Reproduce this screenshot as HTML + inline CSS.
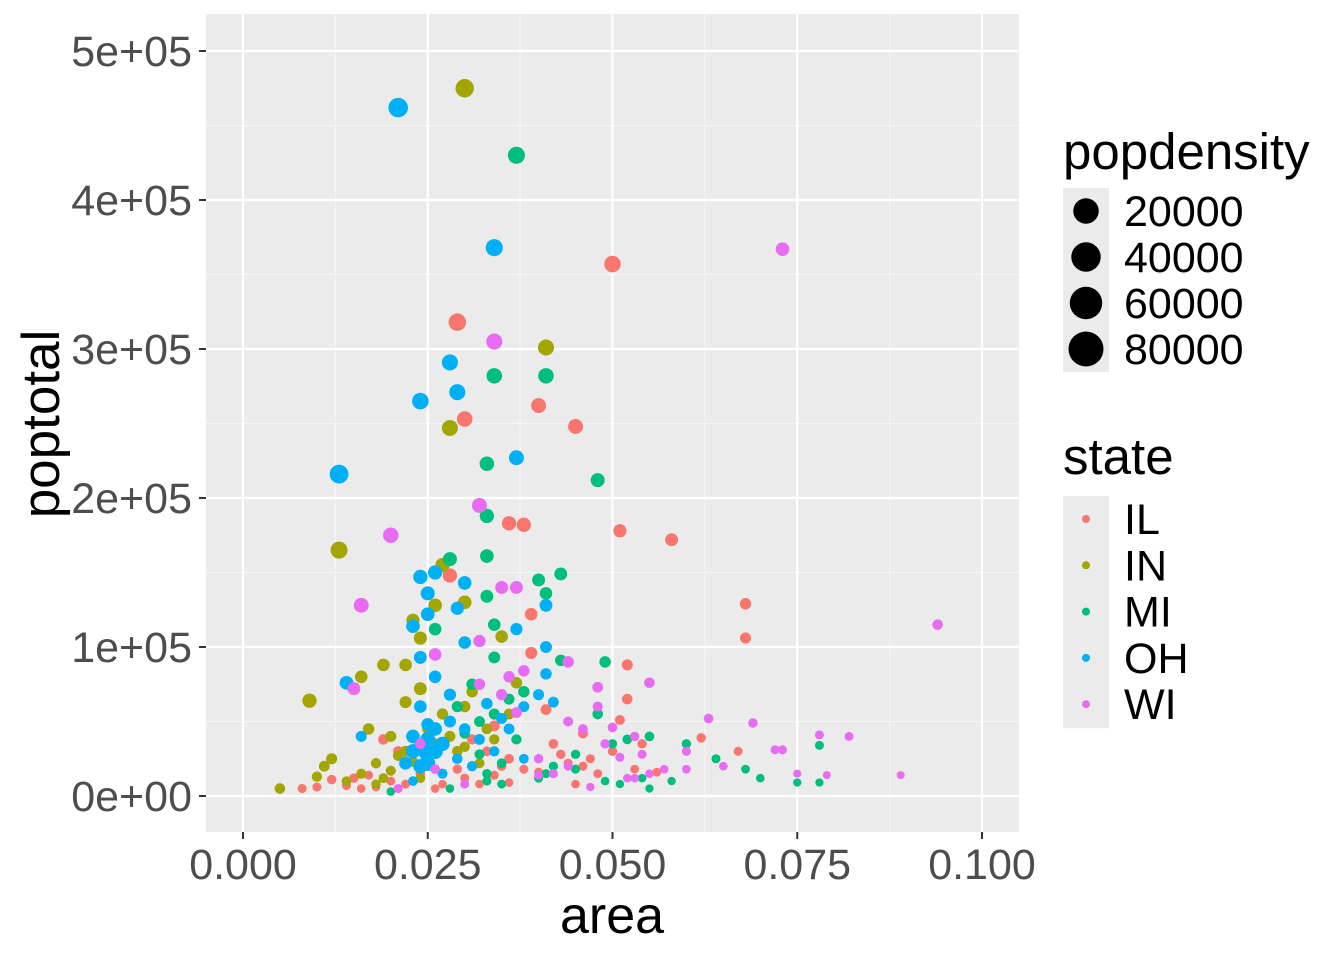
<!DOCTYPE html>
<html><head><meta charset="utf-8"><style>
body{margin:0;background:#fff}
svg{display:block;font-family:"Liberation Sans",Arial,sans-serif}
</style></head><body>
<svg id="chart" width="1344" height="960"></svg>
<script>
// data: [area, poptotal, popdensity]
const IL = [[0.050,357000,50000],[0.029,318000,60000],[0.030,253000,40000],[0.040,262000,35000],[0.045,248000,35000],[0.036,183000,30000],[0.038,182000,30000],[0.051,178000,22000],[0.058,172000,20000],[0.068,129000,12000],[0.068,106000,10000],[0.039,122000,18000],[0.028,148000,30000],[0.052,88000,10000],[0.052,65000,8000],[0.039,96000,15000],[0.041,58000,9000],[0.046,42000,6000],[0.051,51000,6000],[0.062,39000,4000],[0.067,30000,3000],[0.034,47000,9000],[0.033,30000,5000],[0.035,20000,4000],[0.038,18000,3000],[0.042,35000,5000],[0.044,22000,3000],[0.030,12000,3000],[0.027,8000,2000],[0.024,15000,4000],[0.020,10000,3000],[0.018,6000,2000],[0.015,12000,4000],[0.014,7000,3000],[0.012,11000,4000],[0.010,6000,3000],[0.008,5000,3000],[0.016,5000,2000],[0.021,30000,7000],[0.019,38000,8000],[0.025,25000,6000],[0.031,38000,7000],[0.036,25000,5000],[0.040,16000,3000],[0.043,28000,4000],[0.047,25000,3000],[0.053,18000,2500],[0.056,16000,2500],[0.048,15000,2500],[0.029,18000,4000],[0.022,8000,2500],[0.026,5000,2000],[0.017,14000,3000],[0.032,8000,2000],[0.036,9000,2000],[0.045,8000,2000],[0.054,35000,4000],[0.050,30000,4000],[0.046,20000,3000],[0.034,14000,3000]];
const IN = [[0.030,475000,70000],[0.041,301000,45000],[0.028,247000,45000],[0.013,165000,55000],[0.009,64000,30000],[0.027,155000,30000],[0.030,130000,25000],[0.026,128000,25000],[0.023,118000,22000],[0.019,88000,18000],[0.022,88000,18000],[0.016,80000,18000],[0.024,106000,22000],[0.035,107000,18000],[0.037,76000,12000],[0.005,5000,8000],[0.012,25000,10000],[0.011,20000,9000],[0.017,45000,12000],[0.020,40000,10000],[0.010,13000,7000],[0.022,30000,10000],[0.024,72000,20000],[0.022,63000,15000],[0.030,60000,12000],[0.028,40000,10000],[0.031,70000,12000],[0.023,23000,8000],[0.026,35000,9000],[0.018,22000,7000],[0.016,15000,6000],[0.014,10000,5000],[0.020,17000,6000],[0.025,45000,10000],[0.027,55000,11000],[0.032,22000,6000],[0.033,45000,8000],[0.029,30000,8000],[0.021,27000,8000],[0.019,12000,5000],[0.018,8000,4000],[0.024,12000,5000],[0.030,33000,7000],[0.036,55000,9000],[0.034,38000,7000]];
const MI = [[0.037,430000,55000],[0.034,282000,40000],[0.041,282000,40000],[0.033,223000,32000],[0.048,212000,28000],[0.033,188000,30000],[0.028,159000,28000],[0.033,161000,25000],[0.043,149000,20000],[0.040,145000,20000],[0.033,134000,20000],[0.026,112000,18000],[0.034,115000,18000],[0.041,136000,18000],[0.049,90000,12000],[0.043,91000,12000],[0.034,93000,14000],[0.048,55000,8000],[0.055,40000,5000],[0.060,35000,4000],[0.064,25000,3000],[0.068,18000,2500],[0.070,12000,2000],[0.075,9000,1500],[0.078,34000,3000],[0.078,9000,1500],[0.038,70000,12000],[0.036,65000,10000],[0.034,55000,10000],[0.032,50000,9000],[0.030,42000,8000],[0.037,38000,7000],[0.040,12000,3000],[0.041,15000,3000],[0.045,28000,4000],[0.050,35000,4000],[0.052,38000,5000],[0.058,10000,1500],[0.054,12000,2000],[0.049,10000,2000],[0.045,18000,3000],[0.035,22000,5000],[0.033,15000,4000],[0.033,10000,3000],[0.035,8000,2500],[0.020,3000,2000],[0.028,5000,2000],[0.032,28000,6000],[0.042,20000,3500],[0.055,5000,1500],[0.051,8000,1500],[0.025,20000,5000],[0.027,35000,8000],[0.029,60000,11000],[0.031,75000,12000]];
const OH = [[0.021,462000,85000],[0.034,368000,55000],[0.028,291000,45000],[0.029,271000,45000],[0.024,265000,50000],[0.037,227000,35000],[0.013,216000,75000],[0.024,147000,30000],[0.026,150000,30000],[0.030,143000,25000],[0.025,136000,28000],[0.041,128000,20000],[0.025,122000,25000],[0.023,114000,25000],[0.029,126000,22000],[0.014,76000,25000],[0.041,100000,14000],[0.041,82000,12000],[0.037,112000,16000],[0.024,93000,20000],[0.030,103000,18000],[0.026,80000,18000],[0.028,68000,16000],[0.024,60000,18000],[0.025,48000,20000],[0.023,40000,25000],[0.024,32000,40000],[0.025,28000,45000],[0.026,30000,40000],[0.025,22000,35000],[0.024,20000,30000],[0.027,35000,30000],[0.026,45000,25000],[0.023,30000,30000],[0.025,38000,35000],[0.022,22000,20000],[0.028,50000,15000],[0.030,45000,12000],[0.033,62000,12000],[0.035,52000,10000],[0.036,45000,9000],[0.038,60000,10000],[0.040,68000,10000],[0.032,38000,9000],[0.029,25000,8000],[0.031,20000,7000],[0.034,30000,7000],[0.027,15000,6000],[0.016,40000,10000],[0.023,10000,5000],[0.038,25000,5000],[0.042,63000,9000]];
const WI = [[0.073,367000,25000],[0.034,305000,45000],[0.032,195000,35000],[0.020,175000,40000],[0.016,128000,35000],[0.094,115000,8000],[0.035,140000,20000],[0.037,140000,20000],[0.032,104000,16000],[0.015,72000,20000],[0.044,90000,12000],[0.048,73000,9000],[0.055,76000,8000],[0.063,52000,5000],[0.069,49000,4000],[0.072,31000,3000],[0.073,31000,3000],[0.082,40000,3000],[0.078,41000,3000],[0.089,14000,1000],[0.079,14000,1000],[0.075,15000,1200],[0.026,95000,18000],[0.032,75000,12000],[0.038,84000,12000],[0.036,80000,12000],[0.035,68000,11000],[0.037,56000,9000],[0.040,14000,2500],[0.044,50000,6000],[0.046,45000,5000],[0.048,60000,6000],[0.050,46000,5000],[0.051,26000,3000],[0.053,40000,4000],[0.054,28000,3000],[0.053,12000,2000],[0.055,15000,2000],[0.057,18000,2000],[0.060,30000,3000],[0.060,18000,2000],[0.065,20000,2000],[0.047,6000,1500],[0.044,20000,3000],[0.042,15000,3000],[0.030,8000,2500],[0.026,18000,5000],[0.024,35000,8000],[0.021,5000,3000],[0.040,25000,4000],[0.049,35000,4000],[0.052,12000,2000]];
const xTicks = [0, 0.025, 0.05, 0.075, 0.1];
const xTickLabels = ["0.000","0.025","0.050","0.075","0.100"];
const yTicks = [0, 100000, 200000, 300000, 400000, 500000];
const yTickLabels = ["0e+00","1e+05","2e+05","3e+05","4e+05","5e+05"];
const legendSizes = [20000, 40000, 60000, 80000];
const stateNames = ["IL","IN","MI","OH","WI"];
const stateColors = ["#F8766D","#A3A500","#00BF7D","#00B0F6","#E76BF3"];

const NS = "http://www.w3.org/2000/svg";
const svg = document.getElementById("chart");
const P = {l:206, r:1019, t:14, b:832};
const xs = v => 243 + v * 7390;
const ys = v => 796 - v * 149 / 100000;
const rs = d => 3.3 + Math.sqrt(d / 80000) * 6.3;
const rl = d => 8 + Math.sqrt(d / 80000) * 9.5;
function mk(tag, attrs, parent) {
  const e = document.createElementNS(NS, tag);
  for (const k in attrs) e.setAttribute(k, attrs[k]);
  (parent || svg).appendChild(e);
  return e;
}
const panel = mk("rect", {x:P.l, y:P.t, width:P.r-P.l, height:P.b-P.t, fill:"#EBEBEB"});


for (let i = 0; i < xTicks.length - 1; i++) {
  const x = xs((xTicks[i] + xTicks[i+1]) / 2);
  const g = mk("line", {x1:x, x2:x, y1:P.t, y2:P.b, stroke:"#F5F5F5", "stroke-width":1.2});
  
  
}
for (let i = 0; i < yTicks.length; i++) {
  const y = ys(yTicks[i] + 50000);
  if (y < P.t) continue;
  const g = mk("line", {x1:P.l, x2:P.r, y1:y, y2:y, stroke:"#F5F5F5", "stroke-width":1.2});
  
  
}
xTicks.forEach((t, i) => {
  const x = xs(t);
  const g = mk("line", {x1:x, x2:x, y1:P.t, y2:P.b, stroke:"#FFFFFF", "stroke-width":2.2});
  
  
  const tk = mk("line", {x1:x, x2:x, y1:P.b, y2:P.b+7, stroke:"#333", "stroke-width":2});
  
  
  const tx = mk("text", {x:x, y:879, "font-size":43, fill:"#4D4D4D", "text-anchor":"middle"});
  tx.textContent = xTickLabels[i];
  
  
});
yTicks.forEach((t, i) => {
  const y = ys(t);
  const g = mk("line", {x1:P.l, x2:P.r, y1:y, y2:y, stroke:"#FFFFFF", "stroke-width":2.2});
  
  
  const tk = mk("line", {x1:P.l-7, x2:P.l, y1:y, y2:y, stroke:"#333", "stroke-width":2});
  
  
  const tx = mk("text", {x:192, y:y+15, "font-size":43, fill:"#4D4D4D", "text-anchor":"end"});
  tx.textContent = yTickLabels[i];
  
  
});
[IL, IN, MI, OH, WI].forEach((arr, si) => {
  arr.forEach(p => {
    const c = mk("circle", {cx:xs(p[0]), cy:ys(p[1]), r:rs(p[2]), fill:stateColors[si]});
    
    
  });
});
const xt = mk("text", {x:612, y:933, "font-size":52, fill:"#000", "text-anchor":"middle"});
xt.textContent = "area";


const yt = mk("text", {x:0, y:0, "font-size":53, fill:"#000", "text-anchor":"middle", transform:"translate(59,424) rotate(-90)"});
yt.textContent = "poptotal";


const st = mk("text", {x:1063, y:169, "font-size":51, fill:"#000"});
st.textContent = "popdensity";


legendSizes.forEach((d, i) => {
  const cy = 211 + i * 46;
  const bg = mk("rect", {x:1063, y:cy-23, width:46, height:46, fill:"#EBEBEB"});
  
  
  const c = mk("circle", {cx:1086, cy:cy, r:rl(d), fill:"#000"});
  
  
  const t = mk("text", {x:1124, y:cy+15, "font-size":43, fill:"#000"});
  t.textContent = String(d);
  
  
});
const ct = mk("text", {x:1063, y:474, "font-size":51, fill:"#000"});
ct.textContent = "state";


stateNames.forEach((s, i) => {
  const cy = 519 + i * 46.3;
  const bg = mk("rect", {x:1063, y:cy-23, width:46, height:47, fill:"#EBEBEB"});
  
  
  const c = mk("circle", {cx:1086, cy:cy, r:4, fill:stateColors[i]});
  
  
  const t = mk("text", {x:1124, y:cy+15, "font-size":43, fill:"#000"});
  t.textContent = s;
  
  
});
</script>
</body></html>
